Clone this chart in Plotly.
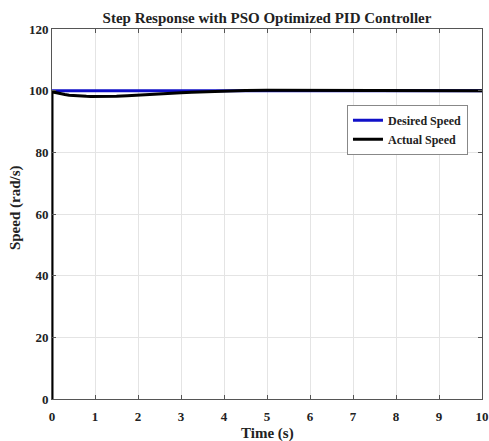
import plotly.graph_objects as go

# Step response samples (time in s, speed in rad/s)
time_desired = [0, 10]
speed_desired = [100, 100]

time_actual = [0, 0, 0.05, 0.1, 0.2, 0.3, 0.4, 0.5, 0.6, 0.7, 0.8, 0.9, 1.0,
               1.1, 1.2, 1.3, 1.5, 1.75, 2.0, 2.25, 2.5, 2.75, 3.0, 3.25,
               3.5, 3.75, 4.0, 4.5, 5.0, 5.5, 6.0, 6.5, 7.0, 8.0, 9.0, 10.0]
speed_actual = [0, 99.7, 99.5, 99.3, 99.0, 98.75, 98.55, 98.4, 98.28, 98.2,
                98.15, 98.12, 98.1, 98.1, 98.12, 98.15, 98.22, 98.35, 98.5,
                98.7, 98.9, 99.1, 99.3, 99.5, 99.65, 99.8, 99.92, 100.08,
                100.15, 100.15, 100.1, 100.06, 100.03, 100.0, 100.0, 100.0]

x_ticks = list(range(0, 11))
y_ticks = [0, 20, 40, 60, 80, 100, 120]

x_title = "Time (s)"
y_title = "Speed (rad/s)"

font_family = "Liberation Serif, Times New Roman, serif"
text_color = "#222222"
label_font = dict(family=font_family, size=15, color=text_color)

fig = go.Figure()
fig.add_trace(go.Scatter(x=time_desired, y=speed_desired, mode="lines",
                         name="<b>Desired Speed</b>",
                         line=dict(color="#1010c8", width=3)))
fig.add_trace(go.Scatter(x=time_actual, y=speed_actual, mode="lines",
                         name="<b>Actual Speed</b>",
                         line=dict(color="#000000", width=3)))

axis_common = dict(
    showgrid=True, gridcolor="#e4e4e4", gridwidth=1,
    showline=True, linecolor="#555555", linewidth=1, mirror="ticks",
    ticks="inside", ticklen=4, tickcolor="#555555",
    zeroline=False, automargin=False,
    tickfont=dict(family=font_family, size=13, color=text_color, weight="bold"),
)

fig.update_layout(
    width=489, height=441,
    margin=dict(l=52, r=7, t=29, b=42),
    paper_bgcolor="white", plot_bgcolor="white",
    font=dict(family=font_family, color=text_color),
    title=dict(text="<b>Step Response with PSO Optimized PID Controller</b>",
               x=0.5, xref="paper", xanchor="center", y=0.96, yanchor="middle",
               font=dict(family=font_family, size=15, color=text_color)),
    xaxis=dict(range=[0, 10], tickvals=x_ticks, ticklabelstandoff=5,
               **axis_common),
    yaxis=dict(range=[0, 120], tickvals=y_ticks, **axis_common),
    legend=dict(x=0.686, y=0.795, xanchor="left", yanchor="top",
                bgcolor="white", bordercolor="#888888", borderwidth=1,
                font=dict(family=font_family, size=12, color=text_color),
                tracegroupgap=0, itemwidth=30),
    showlegend=True,
)

# Axis titles placed as paper-anchored annotations
fig.add_annotation(text=f"<b>{x_title}</b>", xref="paper", yref="paper",
                   x=0.5, y=-0.092, xanchor="center", yanchor="middle",
                   showarrow=False, font=label_font)
fig.add_annotation(text=f"<b>{y_title}</b>", xref="paper", yref="paper",
                   x=-0.086, y=0.516, xanchor="center", yanchor="middle",
                   textangle=-90, showarrow=False, font=label_font)

fig.write_html("out.html")
